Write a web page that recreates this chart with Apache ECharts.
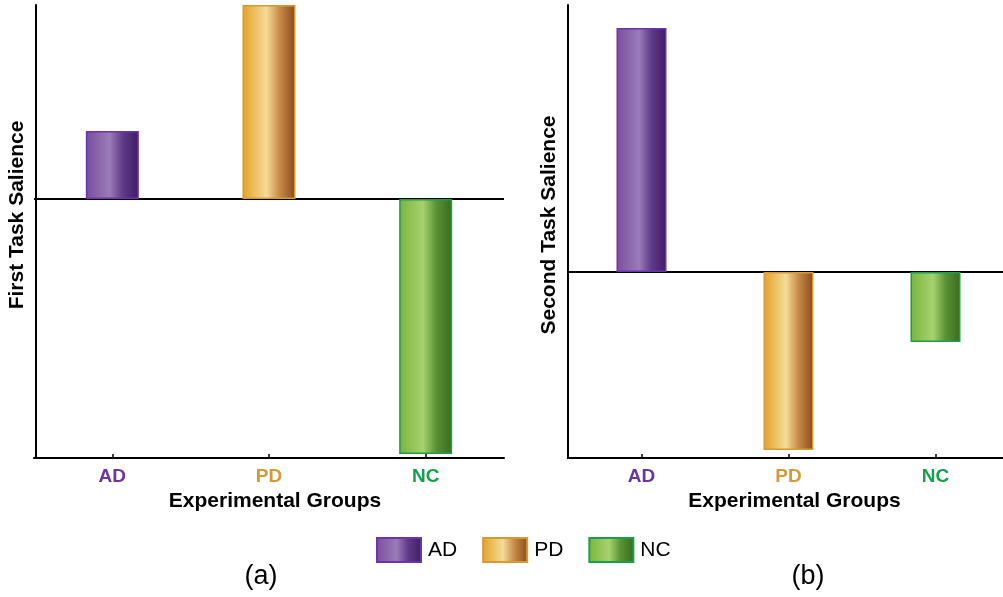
<!DOCTYPE html>
<html>
<head>
<meta charset="utf-8">
<script src="https://cdn.jsdelivr.net/npm/echarts@6/dist/echarts.min.js"></script>
<style>html,body{margin:0;padding:0;background:#fff;overflow:hidden;}#c{width:1012px;height:597px;}</style>
</head>
<body>
<div id="c"></div>
<script>
var categories = ['AD', 'PD', 'NC'];
var firstTask = [0.68, 1.94, -2.55];
var secondTask = [2.44, -1.78, -0.70];
var firstRange = [-2.59, 1.94];
var secondRange = [-1.86, 2.67];
var panelLabels = ['(a)', '(b)'];
var yNames = ['First Task Salience', 'Second Task Salience'];
var xName = 'Experimental Groups';

var FONT = '"Liberation Sans", Arial, Helvetica, sans-serif';
var labelColors = {AD: '#6b35a3', PD: '#d49a3a', NC: '#16a04c'};
function grad(stops) {
  return new echarts.graphic.LinearGradient(0, 0, 1, 0, stops.map(function (s) { return {offset: s[0], color: s[1]}; }));
}
var styles = {
  AD: {color: grad([[0, '#7a4e9e'], [0.45, '#9b7bb8'], [0.7, '#5e3a88'], [1, '#3e1a66']]), borderColor: '#6a35a8', borderWidth: 1.5},
  PD: {color: grad([[0, '#e3a126'], [0.45, '#f4dc98'], [0.7, '#c68a48'], [1, '#8a4a1c']]), borderColor: '#d69a34', borderWidth: 1.5},
  NC: {color: grad([[0, '#7bb43c'], [0.45, '#a6d26e'], [0.7, '#5a9234'], [1, '#3a6a1e']]), borderColor: '#18a04a', borderWidth: 1.5}
};

var grids = [
  {left: 34, top: 5, width: 470, height: 453},
  {left: 568, top: 5, width: 441, height: 453}
];
var yOffsets = [-2, 0];
var barWidths = [53, 50];
var panels = [firstTask, secondTask];
var ranges = [firstRange, secondRange];

var xAxes = [], yAxes = [], series = [];
for (var p = 0; p < 2; p++) {
  xAxes.push({
    type: 'category', gridIndex: p, data: categories,
    axisLine: {onZero: false, lineStyle: {color: '#000', width: 2}},
    axisTick: {show: true, alignWithLabel: true, inside: true, length: 4, lineStyle: {color: '#000', width: 1.5}},
    axisLabel: {margin: 9, fontFamily: FONT, fontWeight: 'bold', fontSize: 19,
      formatter: function (v) { return '{' + v + '|' + v + '}'; },
      rich: {AD: {color: labelColors.AD, fontWeight: 'bold', fontSize: 19, fontFamily: FONT},
             PD: {color: labelColors.PD, fontWeight: 'bold', fontSize: 19, fontFamily: FONT},
             NC: {color: labelColors.NC, fontWeight: 'bold', fontSize: 19, fontFamily: FONT}}},
    name: xName, nameLocation: 'middle', nameGap: 33,
    nameTextStyle: {fontFamily: FONT, fontWeight: 'bold', fontSize: 21, color: '#000', padding: [0, 0, 0, 12]},
    splitLine: {show: false}
  });
  yAxes.push({
    type: 'value', gridIndex: p, min: ranges[p][0], max: ranges[p][1], offset: yOffsets[p],
    axisLine: {show: true, lineStyle: {color: '#000', width: 2}},
    axisTick: {show: false}, axisLabel: {show: false}, splitLine: {show: false}
  });
  categories.forEach(function (cat, i) {
    var d = categories.map(function (c, j) { return j === i ? panels[p][i] : '-'; });
    var s = {
      name: cat, type: 'bar', xAxisIndex: p, yAxisIndex: p, data: d,
      barWidth: barWidths[p], barGap: '-100%', itemStyle: styles[cat],
      emphasis: {disabled: true}, animation: false
    };
    if (i === 0) {
      s.markLine = {silent: true, symbol: 'none', label: {show: false}, z: 1,
        lineStyle: {color: '#000', width: 2, type: 'solid'}, data: [{yAxis: 0}]};
    }
    series.push(s);
  });
}

var chart = echarts.init(document.getElementById('c'), null, {renderer: 'canvas'});
chart.setOption({
  animation: false,
  backgroundColor: '#fff',
  grid: grids,
  xAxis: xAxes,
  yAxis: yAxes,
  series: series,
  legend: {
    data: categories, left: 371, top: 532, itemWidth: 44, itemHeight: 24, itemGap: 25,
    icon: 'rect', selectedMode: false,
    textStyle: {fontFamily: FONT, fontSize: 21, color: '#000', padding: [0, 0, 0, 2]}
  },
  title: [
    {text: panelLabels[0], left: 256, top: 558, textAlign: 'center', textStyle: {fontFamily: FONT, fontWeight: 'normal', fontSize: 27, color: '#000'}},
    {text: panelLabels[1], left: 803, top: 558, textAlign: 'center', textStyle: {fontFamily: FONT, fontWeight: 'normal', fontSize: 27, color: '#000'}}
  ],
  graphic: [
    {type: 'text', x: 17, y: 215, rotation: Math.PI / 2, style: {text: yNames[0], fontFamily: FONT, fontWeight: 'bold', fontSize: 21, fill: '#000', align: 'center', verticalAlign: 'middle'}},
    {type: 'text', x: 549, y: 225, rotation: Math.PI / 2, style: {text: yNames[1], fontFamily: FONT, fontWeight: 'bold', fontSize: 21, fill: '#000', align: 'center', verticalAlign: 'middle'}}
  ]
});
</script>
</body>
</html>
